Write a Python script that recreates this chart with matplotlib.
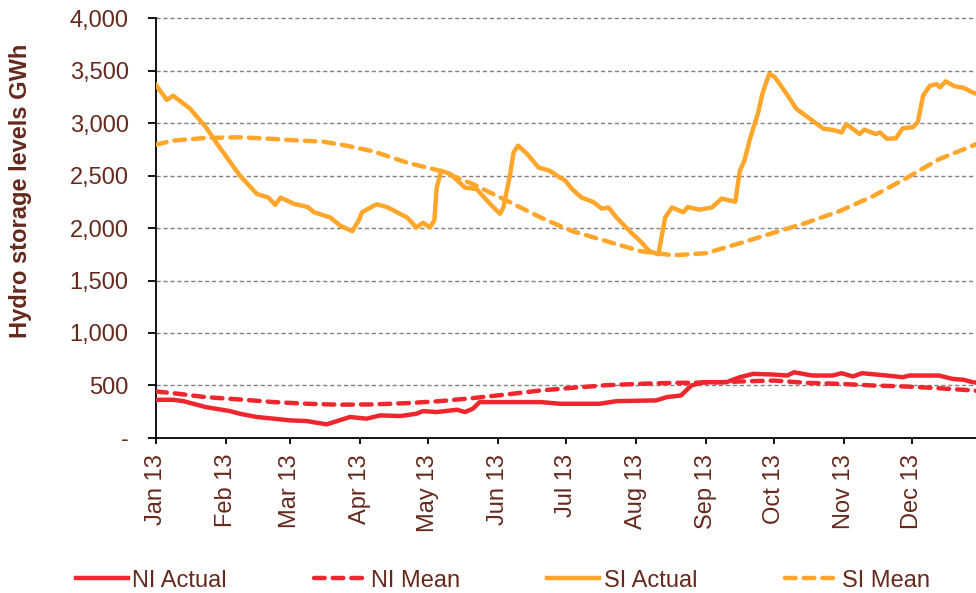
import numpy as np
import pandas as pd
import matplotlib
matplotlib.use("Agg")
import matplotlib.pyplot as plt
import matplotlib.dates as mdates
from matplotlib.ticker import FuncFormatter

plt.rcParams['font.family'] = ['Liberation Sans', 'DejaVu Sans']

# day offsets from 1 Jan 2013, values in GWh
si_act_days = [0, 4.7, 7.5, 15, 22, 27, 37, 44.5, 49.6, 52.6, 55, 60.9, 67, 69.8, 77, 81.5,
               86.7, 89.5, 91, 96, 97.5, 102, 111, 115, 118, 121, 123, 124, 126, 130, 136.5,
               141.7, 147.6, 152, 153.5, 156.5, 158, 160, 164, 169, 174, 178.5, 180.7, 183.7,
               188, 193, 197, 200, 203.5, 210, 214, 218, 222, 225, 228, 233, 235, 240, 245.6,
               250, 256, 258, 260, 262.5, 266, 268, 271, 273.5, 278.6, 283, 289, 295, 299,
               303, 305, 311, 313, 318, 320, 323, 327, 330, 334.5, 336.7, 339, 342, 345, 346.5,
               349, 353, 357, 361, 362.5]
si_act = [3360, 3220, 3260, 3137, 2960, 2800, 2500, 2325, 2290, 2220, 2290, 2230, 2200, 2150,
          2100, 2020, 1970, 2070, 2150, 2210, 2225, 2200, 2100, 2005, 2050, 2005, 2075, 2385,
          2545, 2515, 2385, 2370, 2230, 2135, 2195, 2515, 2720, 2785, 2705, 2577, 2545, 2480,
          2455, 2375, 2290, 2250, 2185, 2195, 2100, 1955, 1875, 1780, 1750, 2100, 2195, 2150,
          2200, 2175, 2195, 2280, 2250, 2545, 2640, 2850, 3090, 3280, 3470, 3437, 3280, 3135,
          3040, 2945, 2935, 2910, 2990, 2895, 2937, 2895, 2910, 2850, 2855, 2950, 2960, 3010,
          3260, 3355, 3370, 3340, 3397, 3350, 3335, 3290, 3280]

si_mean_days = [0, 7.5, 22, 37, 52, 59, 74, 84, 96, 111, 125.5, 140, 155, 170, 178.5, 184, 199,
                214, 228.6, 243, 258, 273, 287.5, 302, 317, 332, 346, 361, 362.5]
si_mean = [2795, 2832, 2858, 2864, 2848, 2838, 2822, 2785, 2730, 2622, 2545, 2418, 2260, 2100,
           2020, 1970, 1875, 1780, 1740, 1760, 1855, 1955, 2050, 2160, 2305, 2480, 2655, 2785,
           2800]

ni_act_days = [0, 7.5, 12, 22, 32.7, 37, 44.5, 52, 59, 66.6, 75.4, 81, 85.7, 93, 99, 108, 115,
               118, 124, 133, 136.5, 140, 143, 155, 170, 178.5, 196, 203.6, 221, 225.7, 232,
               236.6, 241.8, 252, 258, 264, 273, 279, 282, 290, 299, 303, 308, 312, 323, 330,
               333, 346, 352, 357, 361, 362.5]
ni_act = [364, 364, 351, 294, 256, 231, 200, 184, 168, 161, 130, 168, 200, 184, 215, 209, 231,
          256, 247, 269, 247, 279, 342, 342, 342, 326, 326, 351, 358, 389, 405, 500, 531, 531,
          579, 611, 604, 595, 626, 595, 595, 617, 586, 617, 595, 579, 595, 595, 563, 554, 531,
          528]

ni_mean_days = [0, 7.5, 22, 37, 52, 67, 81, 96, 111, 125.5, 140, 155, 170, 184, 199, 214, 228.6,
                243, 258, 273, 287.5, 302, 317, 332, 346, 361, 362.5]
ni_mean = [443, 427, 389, 367, 342, 326, 317, 320, 332, 351, 380, 415, 453, 478, 503, 516, 525,
           528, 538, 547, 525, 516, 500, 490, 474, 453, 450]

start = pd.Timestamp('2013-01-01')
def to_dates(days):
    return start + pd.to_timedelta(np.array(days), unit='D')

red = '#EF262D'
orange = '#FFA62B'
brown = '#65291D'

fig = plt.figure(figsize=(9.76, 5.93), dpi=100)
ax = fig.add_axes([0.16, 0.2614, 0.84, 0.7082])

lw = 3.2
ax.plot(to_dates(ni_act_days), ni_act, color=red, lw=lw, label='NI Actual', zorder=3)
ax.plot(to_dates(ni_mean_days), ni_mean, color=red, lw=lw, dashes=(2.4, 1.8),
        dash_capstyle='round', label='NI Mean', zorder=3)
ax.plot(to_dates(si_act_days), si_act, color=orange, lw=lw, label='SI Actual', zorder=3)
ax.plot(to_dates(si_mean_days), si_mean, color=orange, lw=lw, dashes=(2.4, 1.8),
        dash_capstyle='round', label='SI Mean', zorder=3)

ax.set_ylim(0, 4000)
ax.set_yticks(np.arange(0, 4001, 500))
ax.yaxis.set_major_formatter(FuncFormatter(lambda v, p: '-' if v == 0 else f'{int(v):,}'))
ax.set_xlim(start, start + pd.Timedelta(days=362.4))
ax.xaxis.set_major_locator(mdates.MonthLocator())
ax.xaxis.set_major_formatter(mdates.DateFormatter('%b %y'))

for y in np.arange(500, 4001, 500):
    ax.axhline(y, color='#808080', lw=1, ls=(0, (3, 2)), zorder=1, clip_on=False)

ax.spines['top'].set_visible(False)
ax.spines['right'].set_visible(False)
ax.spines['left'].set_linewidth(1.3)
ax.spines['bottom'].set_linewidth(1.3)

ax.tick_params(axis='y', direction='out', length=5.8, width=1.3, pad=14, labelsize=17,
               labelcolor=brown)
ax.tick_params(axis='x', direction='out', length=4.5, width=1.3, pad=7, labelsize=17,
               labelcolor=brown, labelrotation=90)

ax.set_ylabel('Hydro storage levels GWh', fontsize=17, fontweight='bold', color=brown)
ax.yaxis.set_label_coords(-0.151, 0.588)

leg = fig.legend(loc='center', bbox_to_anchor=(0.515, 0.021), ncol=4, frameon=False,
                 fontsize=17, handlelength=2.2, handletextpad=0.2, columnspacing=3.7,
                 borderpad=0, borderaxespad=0)
for t in leg.get_texts():
    t.set_color(brown)

fig.savefig('out.png', dpi=100)
